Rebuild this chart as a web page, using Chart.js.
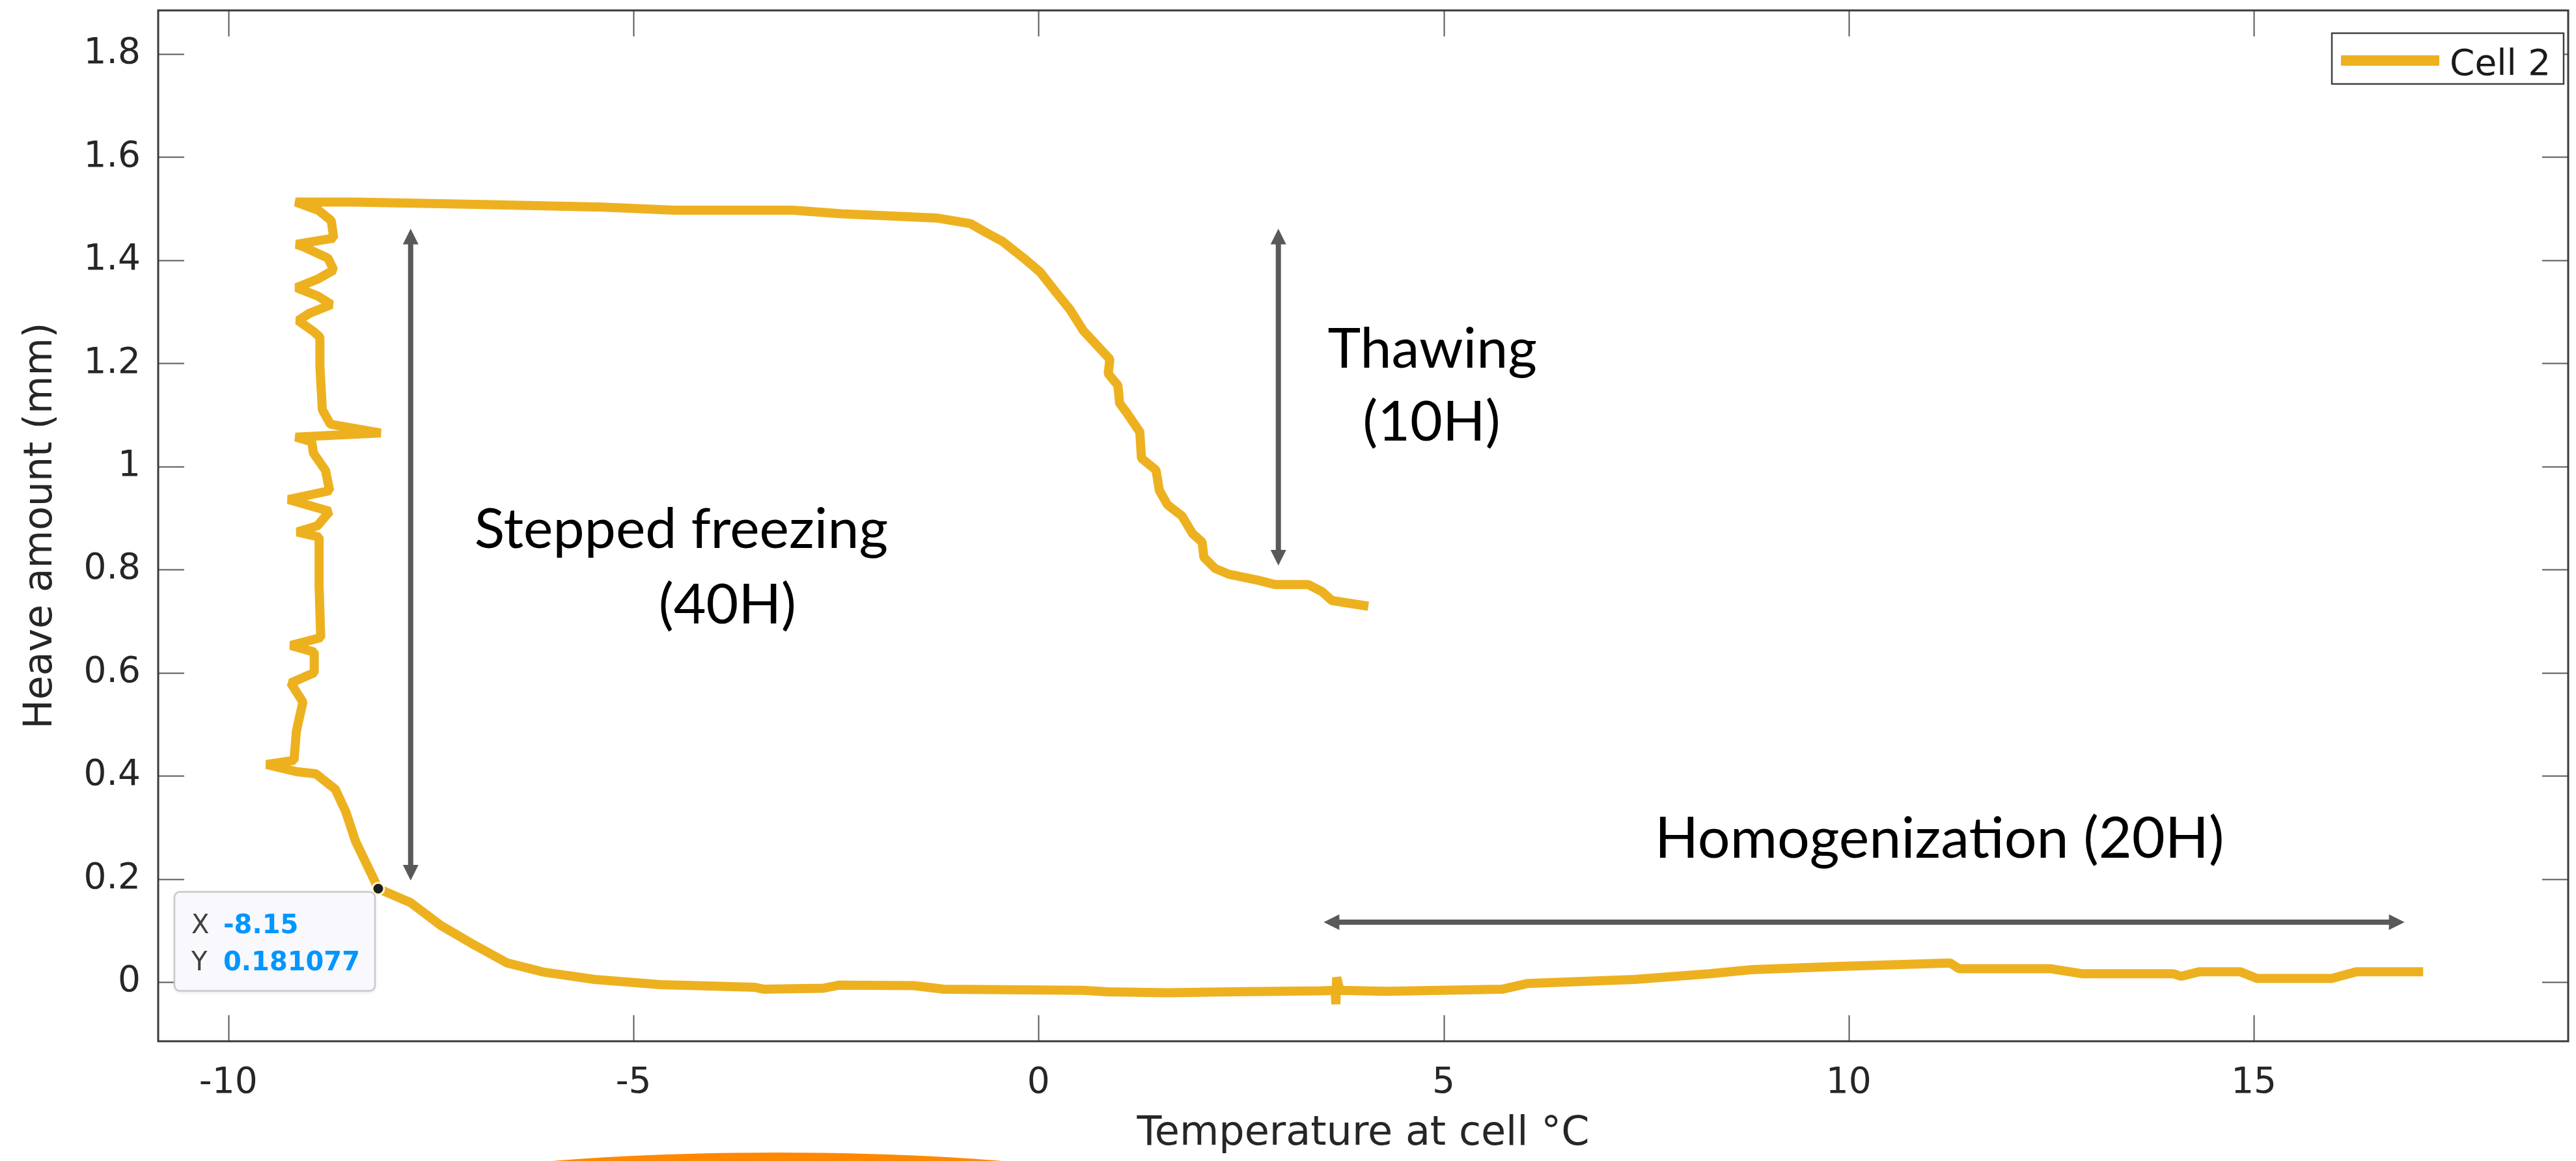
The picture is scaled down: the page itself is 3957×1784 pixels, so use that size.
<!DOCTYPE html>
<html>
<head>
<meta charset="utf-8">
<script src="https://cdn.jsdelivr.net/npm/chart.js@4.4.1/dist/chart.umd.min.js"></script>
<style>
html,body{margin:0;padding:0;background:#ffffff;}
#wrap{width:3957px;height:1784px;position:relative;}
</style>
</head>
<body>
<div id="wrap"><canvas id="c" width="3957" height="1784"></canvas></div>
<script>
// ---------------- data ----------------
const seriesLabel = 'Cell 2';
const cell2Temperature = [17.09,16.27,15.96,15.04,14.83,14.33,14.10,14.01,12.89,12.48,11.36,11.25,9.82,8.80,8.28,7.36,6.03,5.72,4.29,3.72,3.68,3.67,3.66,3.49,2.39,1.59,0.85,0.55,-1.17,-1.54,-2.46,-2.65,-3.39,-3.51,-4.67,-5.48,-6.10,-6.56,-7.01,-7.38,-7.75,-8.15,-8.24,-8.43,-8.55,-8.68,-8.92,-9.16,-9.53,-9.19,-9.16,-9.08,-9.23,-8.94,-8.94,-9.23,-8.86,-8.88,-8.88,-9.15,-8.90,-8.75,-9.26,-8.75,-8.80,-8.95,-8.97,-9.17,-8.12,-8.74,-8.84,-8.87,-8.87,-8.95,-9.14,-9.00,-8.73,-8.89,-9.16,-8.89,-8.70,-8.77,-9.07,-9.16,-8.70,-8.73,-8.89,-9.17,-8.44,-6.85,-5.38,-4.49,-3.03,-2.43,-1.26,-0.84,-0.64,-0.45,-0.19,0.02,0.22,0.39,0.55,0.75,0.88,0.86,0.98,1.00,1.08,1.25,1.27,1.45,1.49,1.59,1.77,1.90,2.02,2.04,2.18,2.35,2.72,2.92,3.33,3.50,3.62,4.07];
const cell2Heave = [0.020,0.020,0.007,0.007,0.020,0.020,0.011,0.016,0.016,0.026,0.026,0.037,0.030,0.024,0.016,0.005,-0.003,-0.014,-0.018,-0.016,0.009,-0.043,-0.016,-0.017,-0.019,-0.021,-0.019,-0.016,-0.014,-0.007,-0.006,-0.012,-0.014,-0.010,-0.005,0.005,0.019,0.037,0.076,0.110,0.154,0.181,0.211,0.273,0.330,0.374,0.404,0.408,0.422,0.430,0.487,0.543,0.580,0.600,0.640,0.653,0.668,0.769,0.863,0.873,0.885,0.913,0.936,0.953,0.992,1.026,1.048,1.057,1.065,1.082,1.110,1.195,1.251,1.262,1.283,1.297,1.314,1.330,1.347,1.364,1.381,1.404,1.426,1.431,1.443,1.477,1.497,1.513,1.513,1.508,1.503,1.497,1.497,1.490,1.482,1.471,1.453,1.437,1.405,1.377,1.337,1.304,1.264,1.230,1.208,1.180,1.157,1.123,1.106,1.067,1.016,0.993,0.954,0.926,0.904,0.870,0.853,0.824,0.802,0.791,0.779,0.771,0.771,0.757,0.740,0.729];
const xTickValues = [-10,-5,0,5,10,15];
const xTickLabels = ['-10','-5','0','5','10','15'];
const yTickValues = [0,0.2,0.4,0.6,0.8,1,1.2,1.4,1.6,1.8];
const yTickLabels = ['0','0.2','0.4','0.6','0.8','1','1.2','1.4','1.6','1.8'];
const xTitle = 'Temperature at cell °C';
const yTitle = 'Heave amount (mm)';
const dataTipX = [-8.15];
const dataTipY = [0.181077];
const dataTipText = ['-8.15','0.181077'];
// annotations (data coordinates)
const arrowStartX = [-7.75, 2.96, 3.52];
const arrowStartY = [0.197, 0.808, 0.116];
const arrowEndX = [-7.75, 2.96, 16.86];
const arrowEndY = [1.461, 1.461, 0.116];
const noteText = ['Stepped freezing','(40H)','Thawing','(10H)','Homogenization (20H)'];
const noteX = [-4.41, -3.84, 4.86, 4.85, 11.12];
const noteY = [0.842, 0.696, 1.192, 1.050, 0.241];

// ---------------- styles ----------------
const LINE_COLOR = '#EDB120';
const AXIS_COLOR = '#262626';
const TICK_FONT = {family:'DejaVu Sans', size:55};
const TITLE_FONT = {family:'DejaVu Sans', size:62};

const points = cell2Temperature.map((t,i)=>({x:t, y:cell2Heave[i]}));
const tipPoints = dataTipX.map((t,i)=>({x:t, y:dataTipY[i]}));

function seg(ctx,x1,y1,x2,y2){ctx.beginPath();ctx.moveTo(x1,y1);ctx.lineTo(x2,y2);ctx.stroke();}

const framePlugin = {
  id:'frame',
  beforeDraw(chart){
    const ctx = chart.ctx;
    ctx.save(); ctx.fillStyle='#ffffff'; ctx.fillRect(0,0,chart.width,chart.height); ctx.restore();
  },
  beforeDatasetsDraw(chart){
    const {ctx, chartArea:a, scales:{x,y}} = chart;
    ctx.save();
    ctx.strokeStyle='#595959'; ctx.lineWidth=2;
    const TL = 40;
    x.ticks.forEach(t=>{const px=Math.round(x.getPixelForValue(t.value))+0.5; seg(ctx,px,a.bottom,px,a.bottom-TL); seg(ctx,px,a.top,px,a.top+TL);});
    y.ticks.forEach(t=>{const py=Math.round(y.getPixelForValue(t.value))+0.5; seg(ctx,a.left,py,a.left+TL,py); seg(ctx,a.right,py,a.right-TL,py);});
    ctx.strokeStyle='#3a3a3a'; ctx.lineWidth=3;
    ctx.strokeRect(a.left, a.top, a.right-a.left, a.bottom-a.top);
    ctx.restore();
  },
  afterDraw(chart){
    const {ctx, chartArea:a, scales:{x,y}} = chart;
    ctx.save();
    // arrows
    ctx.fillStyle='#595959'; ctx.strokeStyle='#595959';
    for(let i=0;i<arrowStartX.length;i++){
      const x1=x.getPixelForValue(arrowStartX[i]), y1=y.getPixelForValue(arrowStartY[i]);
      const x2=x.getPixelForValue(arrowEndX[i]), y2=y.getPixelForValue(arrowEndY[i]);
      const len=Math.hypot(x2-x1,y2-y1), ux=(x2-x1)/len, uy=(y2-y1)/len, nx=-uy, ny=ux;
      const hl=24, hw=12;
      ctx.lineWidth=8; ctx.lineCap='butt';
      seg(ctx,x1+ux*hl*0.9,y1+uy*hl*0.9,x2-ux*hl*0.9,y2-uy*hl*0.9);
      [[x1,y1,1],[x2,y2,-1]].forEach(([px,py,s])=>{
        ctx.beginPath();
        ctx.moveTo(px,py);
        ctx.lineTo(px+s*ux*hl+nx*hw, py+s*uy*hl+ny*hw);
        ctx.lineTo(px+s*ux*hl-nx*hw, py+s*uy*hl-ny*hw);
        ctx.closePath(); ctx.fill();
      });
    }
    // notes
    ctx.fillStyle='#000000';
    ctx.textAlign='center'; ctx.textBaseline='alphabetic';
    noteText.forEach((t,i)=>{
      ctx.font = (i===4 ? '88px' : '86px') + ' Lato';
      ctx.fillText(t, x.getPixelForValue(noteX[i]), y.getPixelForValue(noteY[i]));
    });
    // data tip box
    const px = x.getPixelForValue(dataTipX[0]), py = y.getPixelForValue(dataTipY[0]);
    const bw=308, bh=152, bx=px-5-bw, by=py+5;
    ctx.shadowColor='rgba(0,0,0,0.12)'; ctx.shadowBlur=6; ctx.shadowOffsetY=2;
    ctx.beginPath(); ctx.roundRect(bx,by,bw,bh,8); ctx.fillStyle='#f8f8fd'; ctx.fill();
    ctx.shadowColor='transparent';
    ctx.lineWidth=2.5; ctx.strokeStyle='#c9c9cc'; ctx.stroke();
    ctx.textAlign='left';
    ctx.font='40px "DejaVu Sans"'; ctx.fillStyle='#404040';
    ctx.fillText('X', bx+26, by+63); ctx.fillText('Y', bx+26, by+120);
    ctx.font='bold 40px "DejaVu Sans"'; ctx.fillStyle='#0096ff';
    ctx.fillText(dataTipText[0], bx+75, by+63); ctx.fillText(dataTipText[1], bx+75, by+120);
    // legend
    const lw=356, lh=78, lx=a.right-7-lw, ly=a.top+35;
    ctx.fillStyle='#ffffff'; ctx.fillRect(lx,ly,lw,lh);
    ctx.strokeStyle='#404040'; ctx.lineWidth=2.5; ctx.strokeRect(lx,ly,lw,lh);
    ctx.strokeStyle=LINE_COLOR; ctx.lineWidth=16; ctx.lineCap='butt';
    seg(ctx,lx+14,ly+42,lx+165,ly+42);
    ctx.fillStyle='#1a1a1a'; ctx.font='55px "DejaVu Sans"'; ctx.textBaseline='alphabetic';
    ctx.fillText(seriesLabel, lx+181, ly+64);
    // orange decorative arc at the bottom
    ctx.fillStyle='#ff8800';
    ctx.beginPath(); ctx.ellipse(1194, 1871, 700, 100, 0, 0, Math.PI*2); ctx.fill();
    ctx.restore();
  }
};

new Chart(document.getElementById('c'), {
  type:'scatter',
  data:{datasets:[
    {label:seriesLabel, data:points, showLine:true, borderColor:LINE_COLOR, backgroundColor:LINE_COLOR,
     borderWidth:14, pointRadius:0, tension:0, borderJoinStyle:'bevel', borderCapStyle:'butt', order:2},
    {label:'datatip', data:tipPoints, showLine:false, pointRadius:9, pointBackgroundColor:'#1e1e1e',
     pointBorderColor:'#fffbd0', pointBorderWidth:3, order:1}
  ]},
  options:{
    responsive:false, devicePixelRatio:1, animation:false, events:[],
    layout:{padding:{left:0, top:16, right:3, bottom:0}},
    plugins:{legend:{display:false}, tooltip:{enabled:false}},
    scales:{
      x:{type:'linear', min:-10.866, max:18.88,
        afterBuildTicks:s=>{s.ticks = xTickValues.map(v=>({value:v}));},
        afterFit:s=>{s.height=184; s.paddingLeft=0; s.paddingRight=0;},
        grid:{display:false, drawTicks:false}, border:{display:false},
        ticks:{color:AXIS_COLOR, font:TICK_FONT, padding:32, maxRotation:0, autoSkip:false,
          callback:(v,i)=>xTickLabels[i]},
        title:{display:true, text:xTitle, color:AXIS_COLOR, font:TITLE_FONT, padding:{top:0,bottom:4}}
      },
      y:{type:'linear', min:-0.1149, max:1.8846,
        afterBuildTicks:s=>{s.ticks = yTickValues.map(v=>({value:v}));},
        afterFit:s=>{s.width=243; s.paddingTop=0; s.paddingBottom=0;},
        grid:{display:false, drawTicks:false}, border:{display:false},
        ticks:{color:AXIS_COLOR, font:TICK_FONT, padding:27, autoSkip:false,
          callback:(v,i)=>yTickLabels[i]},
        title:{display:true, text:yTitle, color:AXIS_COLOR, font:{family:'DejaVu Sans', size:60}, padding:{top:27,bottom:0}}
      }
    }
  },
  plugins:[framePlugin]
});
</script>
</body>
</html>
